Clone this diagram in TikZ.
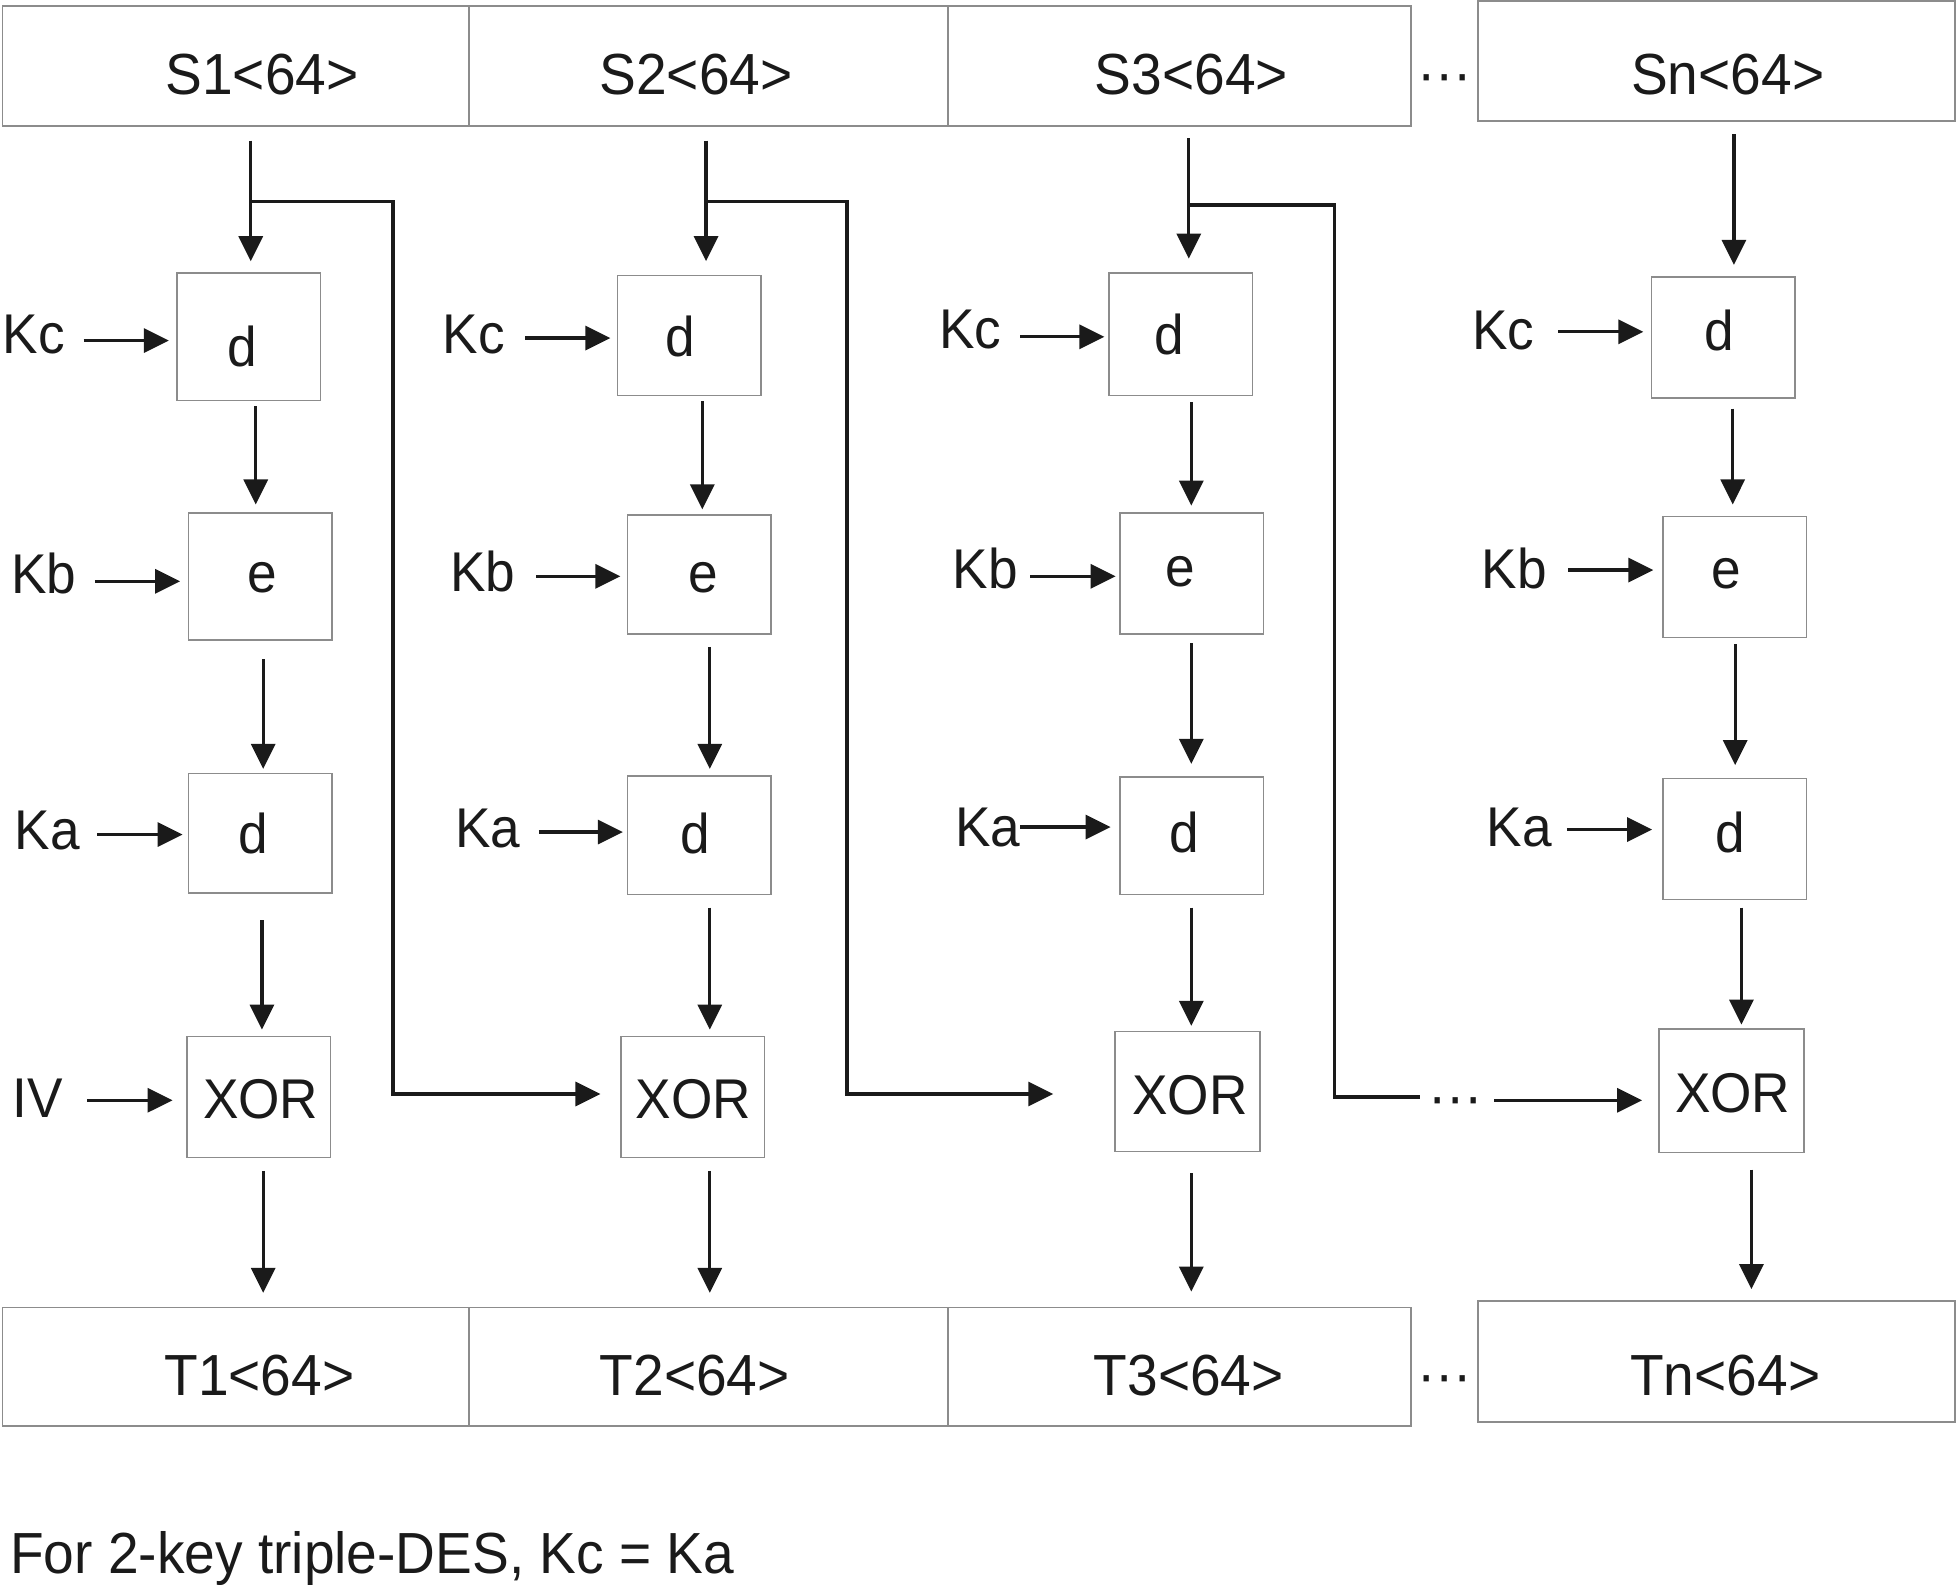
\documentclass[tikz,border=0pt]{standalone}
\usepackage{fontspec}
\setmainfont{Liberation Sans}[FakeStretch=0.95]
\usetikzlibrary{arrows.meta,calc}
\definecolor{ink}{HTML}{1A1A1A}
\definecolor{boxgray}{HTML}{8C8C8C}
\tikzset{
  bx/.style 2 args={draw=boxgray, line width=1.6pt, rectangle, inner sep=0pt,
    minimum width=#1*1.2474pt, minimum height=#2*1.2474pt},
  big/.style={font=\fontsize{58}{60}\selectfont, text=ink, inner sep=0pt},
  lbl/.style={font=\fontsize{56}{60}\selectfont, text=ink, inner sep=0pt},
  arr/.style={draw=ink, line width=3.2pt, -{Triangle[length=25pt,width=24pt]}},
  wire/.style={draw=ink, line width=3.2pt},
}
\begin{document}
\begin{tikzpicture}[x=1.2474pt,y=-1.2474pt]
\useasboundingbox (0,0) rectangle (1568,1270);

% ---------- top strip ----------
\node[bx={374}{96}] (S1) at (189,53) {};
\node[bx={384}{96}] (S2) at (568,53) {};
\node[bx={371}{96}] (S3) at (945.5,53) {};
\node[bx={382}{96}] (Sn) at (1376,49) {};
\node[big] (S1t) at (210,60) {S1<64>};
\node[big] (S2t) at (558,60) {S2<64>};
\node[big] (S3t) at (955,60) {S3<64>};
\node[big] (Snt) at (1385,60) {Sn<64>};
\node[big, anchor=base] (dotsS) at (1158,75) {···};

% ---------- bottom strip ----------
\node[bx={374}{95}] (T1) at (189,1095.5) {};
\node[bx={384}{95}] (T2) at (568,1095.5) {};
\node[bx={371}{95}] (T3) at (945.5,1095.5) {};
\node[bx={382}{97}] (Tn) at (1376,1091.5) {};
\node[big] (T1t) at (208,1103) {T1<64>};
\node[big] (T2t) at (557,1103) {T2<64>};
\node[big] (T3t) at (953,1103) {T3<64>};
\node[big] (Tnt) at (1383,1103) {Tn<64>};
\node[big, anchor=base] (dotsT) at (1158,1118) {···};

% ---------- column 1 ----------
\node[bx={115}{102}] (d1) at (199.5,270) {};
\node[bx={115}{102}] (e1) at (208.5,462) {};
\node[bx={115}{96}]  (a1) at (208.5,668) {};
\node[bx={115}{97}]  (x1) at (207.5,879.5) {};
\node[lbl] (d1t) at (194,278) {d};
\node[lbl] (e1t) at (210,463) {e};
\node[lbl] (a1t) at (203,668) {d};
\node[lbl] (x1t) at (209,881) {XOR};

% ---------- column 2 ----------
\node[bx={115}{96}] (d2) at (552.5,269) {};
\node[bx={115}{95}] (e2) at (560.5,460.5) {};
\node[bx={115}{95}] (a2) at (560.5,669.5) {};
\node[bx={115}{97}] (x2) at (555.5,879.5) {};
\node[lbl] (d2t) at (545,270) {d};
\node[lbl] (e2t) at (564,463) {e};
\node[lbl] (a2t) at (557,668) {d};
\node[lbl] (x2t) at (556,881) {XOR};

% ---------- column 3 ----------
\node[bx={115}{98}] (d3) at (946.5,268) {};
\node[bx={115}{97}] (e3) at (955.5,459.5) {};
\node[bx={115}{94}] (a3) at (955.5,670) {};
\node[bx={116}{96}] (x3) at (952,875) {};
\node[lbl] (d3t) at (937,268) {d};
\node[lbl] (e3t) at (946,458) {e};
\node[lbl] (a3t) at (949,667) {d};
\node[lbl] (x3t) at (954,878) {XOR};

% ---------- column 4 ----------
\node[bx={115}{97}] (d4) at (1381.5,270.5) {};
\node[bx={115}{97}] (e4) at (1390.5,462.5) {};
\node[bx={115}{97}] (a4) at (1390.5,672.5) {};
\node[bx={116}{99}] (x4) at (1388,874.5) {};
\node[lbl] (d4t) at (1378,265) {d};
\node[lbl] (e4t) at (1384,460) {e};
\node[lbl] (a4t) at (1387,667) {d};
\node[lbl] (x4t) at (1389,876) {XOR};

% ---------- key labels ----------
\node[lbl] (kc1) at (27,268) {Kc};
\node[lbl] (kb1) at (35,460) {Kb};
\node[lbl] (ka1) at (38,666) {Ka};
\node[lbl] (iv1) at (30,880) {IV};
\node[lbl] (kc2) at (380,268) {Kc};
\node[lbl] (kb2) at (387,458) {Kb};
\node[lbl] (ka2) at (391,664) {Ka};
\node[lbl] (kc3) at (778,264) {Kc};
\node[lbl] (kb3) at (790,456) {Kb};
\node[lbl] (ka3) at (792,663) {Ka};
\node[lbl] (kc4) at (1205,265) {Kc};
\node[lbl] (kb4) at (1214,456) {Kb};
\node[lbl] (ka4) at (1218,663) {Ka};

\coordinate (kc1s) at (67,273);
\coordinate (kb1s) at (76,466);
\coordinate (ka1s) at (78,669);
\coordinate (iv1s) at (70,882);
\coordinate (kc2s) at (421,271);
\coordinate (kb2s) at (430,462);
\coordinate (ka2s) at (432,667);
\coordinate (kc3s) at (818,270);
\coordinate (kb3s) at (826,462);
\coordinate (ka3s) at (818,663);
\coordinate (kc4s) at (1249,266);
\coordinate (kb4s) at (1257,457);
\coordinate (ka4s) at (1256,665);

\draw[arr] (kc1s) -- ($(kc1s -| d1.west)+(-6,0)$);
\draw[arr] (kb1s) -- ($(kb1s -| e1.west)+(-6,0)$);
\draw[arr] (ka1s) -- ($(ka1s -| a1.west)+(-4,0)$);
\draw[arr] (iv1s) -- ($(iv1s -| x1.west)+(-11,0)$);
\draw[arr] (kc2s) -- ($(kc2s -| d2.west)+(-5,0)$);
\draw[arr] (kb2s) -- ($(kb2s -| e2.west)+(-5,0)$);
\draw[arr] (ka2s) -- ($(ka2s -| a2.west)+(-3,0)$);
\draw[arr] (kc3s) -- ($(kc3s -| d3.west)+(-3,0)$);
\draw[arr] (kb3s) -- ($(kb3s -| e3.west)+(-3,0)$);
\draw[arr] (ka3s) -- ($(ka3s -| a3.west)+(-7,0)$);
\draw[arr] (kc4s) -- ($(kc4s -| d4.west)+(-6,0)$);
\draw[arr] (kb4s) -- ($(kb4s -| e4.west)+(-7,0)$);
\draw[arr] (ka4s) -- ($(ka4s -| a4.west)+(-8,0)$);

% ---------- column 1 connectors ----------
\draw[arr] ($(S1.south -| d1.north)+(1.5,11)$) -- ($(d1.north)+(1.5,-9)$);
\draw[arr] ($(d1.north)+(1.5,-57)$) -- ++(114,0) |- ($(x2.west)+(-16,-2.5)$);
\draw[arr] ($(d1.south)+(5.5,4)$) -- ($(e1.north)+(-3.5,-6)$);
\draw[arr] ($(e1.south)+(2.5,15)$) -- ($(a1.north)+(2.5,-3)$);
\draw[arr] ($(a1.south)+(1.5,21)$) -- ($(x1.north)+(2.5,-5)$);
\draw[arr] ($(x1.south)+(3.5,10)$) -- ($(x1.south |- T1.north)+(3.5,-11)$);

% ---------- column 2 connectors ----------
\draw[arr] ($(S2.south -| d2.north)+(13.5,11)$) -- ($(d2.north)+(13.5,-11)$);
\draw[arr] ($(d2.north)+(13.5,-59)$) -- ++(113,0) |- ($(x3.west)+(-49,2)$);
\draw[arr] ($(d2.south)+(10.5,4)$) -- ($(e2.north)+(2.5,-4)$);
\draw[arr] ($(e2.south)+(8.5,10)$) -- ($(a2.north)+(8.5,-5)$);
\draw[arr] ($(a2.south)+(8.5,10)$) -- ($(x2.north)+(13.5,-5)$);
\draw[arr] ($(x2.south)+(13.5,10)$) -- ($(x2.south |- T2.north)+(13.5,-11)$);

% ---------- column 3 connectors ----------
\draw[arr] ($(S3.south -| d3.north)+(6.5,9)$) -- ($(d3.north)+(6.5,-11)$);
\draw[wire] ($(d3.north)+(6.5,-54)$) -- ++(117,0) -- ++(0,715) -- ++(68,0);
\node[big, anchor=base] (dotsX) at (1167,895) {···};
\coordinate (c3s) at (1198,882);
\draw[arr] (c3s) -- ($(c3s -| x4.west)+(-13,0)$);
\draw[arr] ($(d3.south)+(8.5,5)$) -- ($(e3.north)+(-0.5,-5)$);
\draw[arr] ($(e3.south)+(-0.5,7)$) -- ($(a3.north)+(-0.5,-10)$);
\draw[arr] ($(a3.south)+(-0.5,10)$) -- ($(x3.north)+(3,-4)$);
\draw[arr] ($(x3.south)+(3,17)$) -- ($(x3.south |- T3.north)+(3,-12)$);

% ---------- column 4 connectors ----------
\draw[arr] ($(Sn.south -| d4.north)+(8.5,10)$) -- ($(d4.north)+(8.5,-9)$);
\draw[arr] ($(d4.south)+(7.5,8)$) -- ($(e4.north)+(-1.5,-9)$);
\draw[arr] ($(e4.south)+(0.5,5)$) -- ($(a4.north)+(0.5,-10)$);
\draw[arr] ($(a4.south)+(5.5,6)$) -- ($(x4.north)+(8,-3)$);
\draw[arr] ($(x4.south)+(16,13)$) -- ($(x4.south |- Tn.north)+(16,-9)$);

% ---------- caption ----------
\node[big, anchor=base west] (cap) at (8,1261) {For 2-key triple-DES, Kc = Ka};
\end{tikzpicture}
\end{document}
